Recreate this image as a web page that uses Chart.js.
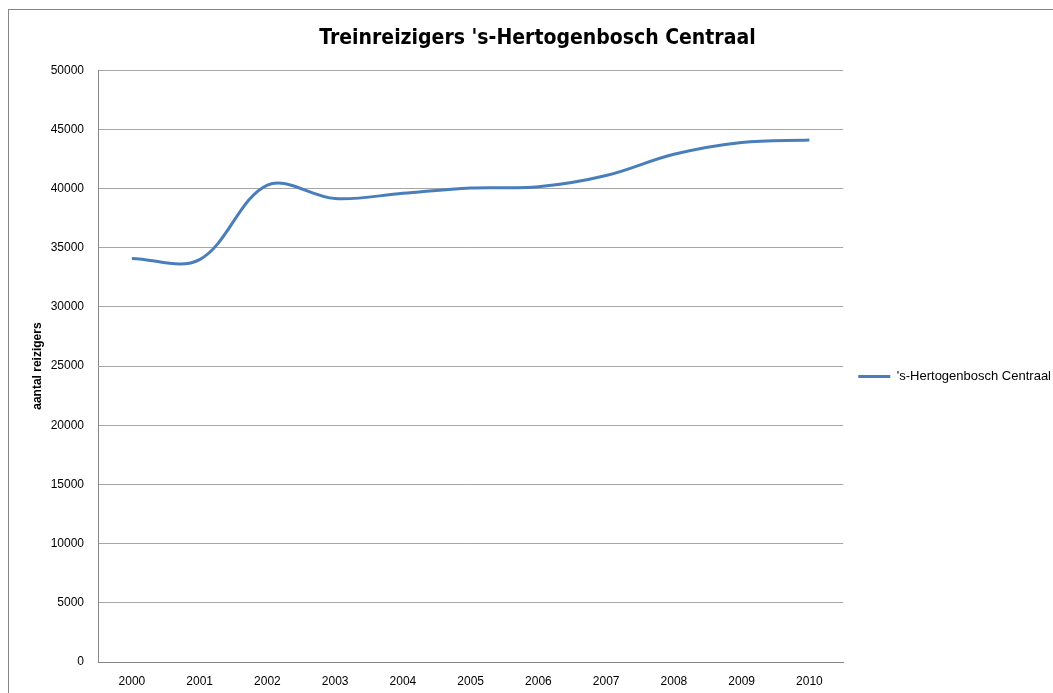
<!DOCTYPE html>
<html>
<head>
<meta charset="utf-8">
<script src="https://cdn.jsdelivr.net/npm/chart.js@4/dist/chart.umd.min.js"></script>
<style>
  html, body { margin: 0; padding: 0; background: #fff; }
  #wrap { width: 1053px; height: 693px; }
</style>
</head>
<body>
<div id="wrap"><canvas id="reizigersChart" width="1053" height="693"></canvas></div>
<script>
const years = ["2000", "2001", "2002", "2003", "2004", "2005", "2006", "2007", "2008", "2009", "2010"];
const reizigers = [34100, 34000, 40300, 39150, 39600, 40050, 40150, 41100, 42900, 43900, 44100];
const yTicks = [0, 5000, 10000, 15000, 20000, 25000, 30000, 35000, 40000, 45000, 50000];

const fontFamily = "'Liberation Sans', Arial, sans-serif";

// grey border around the whole chart object
const chartFrame = {
  id: "chartFrame",
  beforeDraw(chart) {
    const ctx = chart.ctx;
    ctx.save();
    ctx.strokeStyle = "#868686";
    ctx.lineWidth = 1;
    ctx.strokeRect(8.5, 9.5, chart.width + 20, chart.height + 20);
    ctx.restore();
  },
};

// move the legend entry a bit lower and to the right
const legendShift = {
  id: "legendShift",
  afterLayout(chart) {
    const lg = chart.legend;
    if (!lg) return;
    lg.top += 30;
    lg.bottom += 30;
    lg.left += 8;
    lg.right += 8;
  },
};

const ctx = document.getElementById("reizigersChart").getContext("2d");

new Chart(ctx, {
  type: "line",
  data: {
    labels: years,
    datasets: [
      {
        label: "'s-Hertogenbosch Centraal",
        data: reizigers,
        borderColor: "#4a7ebb",
        backgroundColor: "#4a7ebb",
        borderWidth: 3,
        tension: 0.35,
        pointRadius: 0,
        pointHoverRadius: 0,
        pointStyle: "line",
      },
    ],
  },
  options: {
    responsive: false,
    animation: false,
    layout: {
      padding: { left: 22, right: 0, top: 0, bottom: 0 },
    },
    plugins: {
      title: {
        display: true,
        text: "Treinreizigers 's-Hertogenbosch Centraal",
        color: "#000",
        font: { family: "'DejaVu Sans Condensed', 'DejaVu Sans', sans-serif", size: 21, weight: "bold" },
        padding: { top: 26, bottom: 19 },
      },
      legend: {
        display: true,
        position: "right",
        labels: {
          usePointStyle: true,
          pointStyle: "line",
          pointStyleWidth: 32,
          padding: 7,
          color: "#000",
          font: { family: fontFamily, size: 13 },
        },
      },
      tooltip: { enabled: false },
    },
    scales: {
      x: {
        offset: true,
        grid: { display: false, drawTicks: false },
        border: { color: "#868686", width: 1 },
        ticks: {
          color: "#000",
          font: { family: fontFamily, size: 12 },
          padding: 12,
          maxRotation: 0,
        },
        afterFit(scale) {
          scale.height = 31;
        },
      },
      y: {
        min: 0,
        max: 50000,
        afterBuildTicks(scale) {
          scale.ticks = yTicks.map((v) => ({ value: v }));
        },
        grid: { color: "#a6a6a6", drawTicks: false },
        border: { color: "#868686", width: 1 },
        ticks: {
          color: "#000",
          font: { family: fontFamily, size: 12 },
          padding: 14,
          callback: (value) => String(value),
        },
        title: {
          display: true,
          text: "aantal reizigers",
          color: "#000",
          font: { family: fontFamily, size: 12, weight: "bold" },
          padding: { top: 8, bottom: 0 },
        },
        afterFit(scale) {
          scale.width = 76;
        },
      },
    },
  },
  plugins: [chartFrame, legendShift],
});
</script>
</body>
</html>
